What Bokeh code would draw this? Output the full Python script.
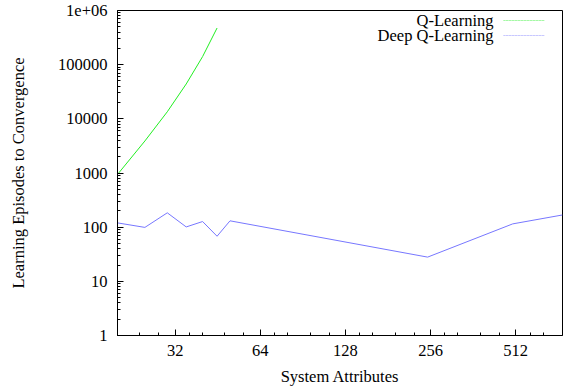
from bokeh.plotting import figure
from bokeh.models import FixedTicker, Label, BoxAnnotation, Range1d
from bokeh.embed import file_html
from bokeh.resources import INLINE

# ---- data ----
x_q = [20, 25, 30, 35, 40, 45]
y_q = [940, 3900, 13500, 44000, 141000, 475000]
x_dq = [20, 25, 30, 35, 40, 45, 50, 250, 500, 750]
y_dq = [120, 99, 184, 101, 127, 68, 131, 28, 115, 168]
x_ticks = [32, 64, 128, 256, 512]
x_tick_labels = ["32", "64", "128", "256", "512"]
y_ticks = [1, 10, 100, 1000, 10000, 100000, 1000000]
y_tick_labels = ["1", "10", "100", "1000", "10000", "100000", "1e+06"]
series_names = ["Q-Learning", "Deep Q-Learning"]
series_colors = ["#22ee22", "#7777ff"]
x_title = "System Attributes"
y_title = "Learning Episodes to Convergence"

FONT = "Liberation Serif"
FS = "16.5px"
W, H = 568, 389
LEFT, RIGHT, TOP, BOTTOM = 117, 6, 10, 54

p = figure(width=W, height=H, x_axis_type="log", y_axis_type="log",
           x_range=Range1d(x_dq[0], x_dq[-1]), y_range=Range1d(y_ticks[0], y_ticks[-1]),
           output_backend="svg", toolbar_location=None,
           min_border_left=LEFT, min_border_right=RIGHT,
           min_border_top=TOP, min_border_bottom=BOTTOM)

p.grid.visible = False
p.outline_line_color = "black"
p.outline_line_width = 1
p.background_fill_color = "white"
p.border_fill_color = "white"

x_minor = [b * f for b in [16, 32, 64, 128, 256, 512] for f in [1.125, 1.25, 1.5, 1.75]]
y_minor = [m * 10 ** k for k in range(0, 6) for m in range(2, 10)]

for ax in p.xaxis:
    ax.ticker = FixedTicker(ticks=x_ticks, minor_ticks=x_minor)
    ax.major_label_overrides = {t: l for t, l in zip(x_ticks, x_tick_labels)}
for ax in p.yaxis:
    ax.ticker = FixedTicker(ticks=y_ticks, minor_ticks=y_minor)
    ax.major_label_overrides = {t: l for t, l in zip(y_ticks, y_tick_labels)}

for ax in list(p.xaxis) + list(p.yaxis):
    ax.major_tick_in = 6
    ax.major_tick_out = 0
    ax.minor_tick_in = 3
    ax.minor_tick_out = 0
    ax.axis_line_color = "black"
    ax.major_label_text_font = FONT
    ax.major_label_text_font_size = FS
    ax.major_label_text_color = "black"
    ax.axis_label_text_font = FONT
    ax.axis_label_text_font_size = FS
    ax.axis_label_text_font_style = "normal"
    ax.axis_label_text_color = "black"

p.xaxis.major_label_standoff = 9
p.yaxis.major_label_standoff = 10
p.xaxis.axis_label = x_title
p.xaxis.axis_label_standoff = 8
p.yaxis.axis_label = y_title
p.yaxis.axis_label_standoff = 27

p.line(x_q, y_q, line_color=series_colors[0], line_width=1)
p.line(x_dq, y_dq, line_color=series_colors[1], line_width=1)

# legend (gnuplot style: text right-aligned, sample to the right)
for i, (name, col) in enumerate(zip(series_names, series_colors)):
    ycen = (H - BOTTOM) - (20 + 15 * i)
    p.add_layout(Label(x=493 - LEFT, y=ycen, x_units="screen", y_units="screen", text=name,
                       text_align="right", text_baseline="middle",
                       text_font=FONT, text_font_size=FS, text_color="black"))
    p.add_layout(BoxAnnotation(left=503 - LEFT, right=544 - LEFT, top=ycen, bottom=ycen,
                               left_units="screen", right_units="screen",
                               top_units="screen", bottom_units="screen",
                               fill_alpha=0, line_color=col, line_width=1, line_dash="2 1"))

open("out.html", "w").write(file_html(p, INLINE))
